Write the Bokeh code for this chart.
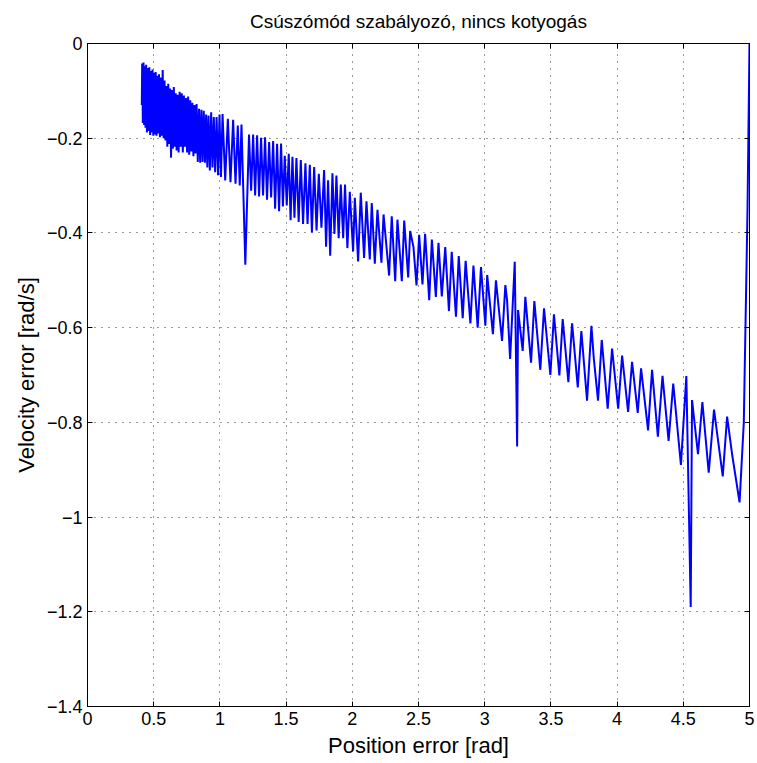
from bokeh.plotting import figure
from bokeh.models import LinearAxis, Range1d, FixedTicker
from bokeh.embed import file_html
from bokeh.resources import INLINE

# Phase-portrait turning points (position error, velocity error)
pos_err = [
    0.410, 0.413, 0.418, 0.423, 0.428, 0.433, 0.438, 0.443, 0.449, 0.455,
    0.461, 0.467, 0.473, 0.479, 0.485, 0.491, 0.497, 0.503, 0.509, 0.515,
    0.521, 0.527, 0.533, 0.540, 0.547, 0.554, 0.561, 0.568, 0.575, 0.582,
    0.589, 0.596, 0.603, 0.610, 0.617, 0.624, 0.631, 0.638, 0.645, 0.652,
    0.659, 0.666, 0.673, 0.680, 0.688, 0.696, 0.704, 0.712, 0.720, 0.728,
    0.736, 0.744, 0.752, 0.760, 0.768, 0.776, 0.784, 0.792, 0.800, 0.808,
    0.816, 0.824, 0.833, 0.842, 0.851, 0.860, 0.869, 0.878, 0.887, 0.896,
    0.905, 0.914, 0.924, 0.934, 0.944, 0.954, 0.964, 0.975, 0.986, 0.997,
    1.008, 1.020, 1.040, 1.060, 1.080, 1.100, 1.118, 1.135, 1.150, 1.163,
    1.192, 1.220, 1.236, 1.251, 1.266, 1.281, 1.296, 1.311, 1.326, 1.341,
    1.356, 1.372, 1.387, 1.402, 1.417, 1.432, 1.447, 1.462, 1.476, 1.490,
    1.505, 1.520, 1.534, 1.548, 1.563, 1.578, 1.595, 1.611, 1.628, 1.646,
    1.662, 1.679, 1.695, 1.712, 1.730, 1.747, 1.767, 1.787, 1.802, 1.817,
    1.833, 1.850, 1.865, 1.880, 1.897, 1.913, 1.931, 1.945, 1.963, 1.981,
    2.006, 2.019, 2.044, 2.064, 2.089, 2.107, 2.132, 2.147, 2.170, 2.190,
    2.220, 2.236, 2.278, 2.298, 2.324, 2.341, 2.374, 2.392, 2.422, 2.437,
    2.462, 2.485, 2.505, 2.530, 2.550, 2.581, 2.601, 2.631, 2.651, 2.676,
    2.702, 2.730, 2.751, 2.783, 2.804, 2.834, 2.856, 2.892, 2.915, 2.947,
    2.972, 3.005, 3.019, 3.062, 3.085, 3.131, 3.156, 3.169, 3.192, 3.227,
    3.245, 3.252, 3.287, 3.307, 3.350, 3.375, 3.420, 3.448, 3.496, 3.523,
    3.564, 3.589, 3.632, 3.660, 3.703, 3.730, 3.773, 3.806, 3.824, 3.856,
    3.884, 3.929, 3.962, 4.008, 4.038, 4.083, 4.113, 4.156, 4.181, 4.234,
    4.264, 4.308, 4.343, 4.389, 4.424, 4.482, 4.523, 4.556, 4.566, 4.611,
    4.644, 4.692, 4.732, 4.798, 4.831, 4.870, 4.925, 4.957, 4.985, 5.000,
]
vel_err = [
    -0.130, -0.042, -0.168, -0.040, -0.172, -0.048, -0.178, -0.045, -0.188, -0.052,
    -0.185, -0.050, -0.193, -0.058, -0.188, -0.055, -0.195, -0.062, -0.192, -0.060,
    -0.195, -0.068, -0.190, -0.065, -0.198, -0.072, -0.195, -0.056, -0.200, -0.078,
    -0.205, -0.090, -0.218, -0.085, -0.212, -0.095, -0.241, -0.098, -0.222, -0.092,
    -0.218, -0.105, -0.226, -0.108, -0.230, -0.102, -0.218, -0.105, -0.230, -0.110,
    -0.218, -0.115, -0.230, -0.112, -0.235, -0.120, -0.228, -0.125, -0.238, -0.130,
    -0.232, -0.128, -0.250, -0.138, -0.252, -0.140, -0.250, -0.142, -0.252, -0.150,
    -0.262, -0.152, -0.268, -0.145, -0.262, -0.155, -0.272, -0.155, -0.278, -0.150,
    -0.282, -0.149, -0.289, -0.159, -0.293, -0.161, -0.296, -0.173, -0.300, -0.171,
    -0.467, -0.192, -0.311, -0.192, -0.321, -0.194, -0.323, -0.199, -0.321, -0.198,
    -0.330, -0.208, -0.325, -0.206, -0.349, -0.212, -0.354, -0.211, -0.344, -0.237,
    -0.342, -0.233, -0.373, -0.239, -0.368, -0.242, -0.377, -0.246, -0.381, -0.253,
    -0.381, -0.256, -0.399, -0.261, -0.395, -0.275, -0.389, -0.267, -0.429, -0.289,
    -0.448, -0.274, -0.402, -0.279, -0.411, -0.298, -0.411, -0.298, -0.432, -0.313,
    -0.439, -0.326, -0.460, -0.315, -0.453, -0.333, -0.456, -0.337, -0.465, -0.351,
    -0.463, -0.361, -0.490, -0.365, -0.502, -0.372, -0.502, -0.374, -0.494, -0.396,
    -0.430, -0.511, -0.404, -0.509, -0.402, -0.542, -0.414, -0.535, -0.421, -0.534,
    -0.430, -0.565, -0.440, -0.577, -0.449, -0.580, -0.459, -0.591, -0.469, -0.600,
    -0.472, -0.596, -0.489, -0.614, -0.500, -0.628, -0.510, -0.542, -0.666, -0.461,
    -0.851, -0.563, -0.649, -0.535, -0.674, -0.544, -0.689, -0.559, -0.700, -0.572,
    -0.701, -0.582, -0.715, -0.591, -0.726, -0.607, -0.754, -0.596, -0.665, -0.754,
    -0.626, -0.771, -0.644, -0.771, -0.659, -0.778, -0.672, -0.780, -0.686, -0.817,
    -0.689, -0.830, -0.702, -0.839, -0.718, -0.890, -0.702, -1.190, -0.753, -0.867,
    -0.757, -0.906, -0.773, -0.914, -0.788, -0.870, -0.969, -0.800, -0.350, 0.000,
]

x_ticks = [0, 0.5, 1, 1.5, 2, 2.5, 3, 3.5, 4, 4.5, 5]
x_tick_labels = ["0", "0.5", "1", "1.5", "2", "2.5", "3", "3.5", "4", "4.5", "5"]
y_ticks = [-1.4, -1.2, -1.0, -0.8, -0.6, -0.4, -0.2, 0]
y_tick_labels = ["\u22121.4", "\u22121.2", "\u22121", "\u22120.8", "\u22120.6", "\u22120.4", "\u22120.2", "0"]

TITLE = "Csúszómód szabályozó, nincs kotyogás"
FONT = "Liberation Sans"

p = figure(
    width=757, height=763,
    x_range=Range1d(0, 5), y_range=Range1d(-1.4, 0),
    output_backend="svg", toolbar_location=None,
    min_border_left=87, min_border_right=8,
    min_border_top=43, min_border_bottom=57,
)

p.line(pos_err, vel_err, line_color="#0000ff", line_width=2)

p.outline_line_color = "black"
p.outline_line_width = 1
p.background_fill_color = "white"
p.border_fill_color = "white"

for g in (p.xgrid, p.ygrid):
    g.grid_line_color = "black"
    g.grid_line_dash = "1 6"
    g.grid_line_width = 1
    g.grid_line_alpha = 0.8
p.xgrid.ticker = FixedTicker(ticks=x_ticks)
p.ygrid.ticker = FixedTicker(ticks=y_ticks)

def style_axis(ax, ticks, labels, show_labels):
    ax.ticker = FixedTicker(ticks=ticks)
    ax.major_tick_in = 5
    ax.major_tick_out = 0
    ax.minor_tick_line_color = None
    ax.axis_line_color = "black"
    ax.major_tick_line_color = "black"
    ax.major_label_text_font = FONT
    ax.major_label_text_color = "black"
    if show_labels:
        ax.major_label_overrides = {t: l for t, l in zip(ticks, labels)}
        ax.major_label_text_font_size = "18px"
        ax.major_label_standoff = 5
    else:
        ax.major_label_overrides = {t: "" for t in ticks}
        ax.major_label_text_font_size = "1px"
        ax.major_label_standoff = 0

xa = p.xaxis[0]
ya = p.yaxis[0]
style_axis(xa, x_ticks, x_tick_labels, True)
style_axis(ya, y_ticks, y_tick_labels, True)
xa.axis_label = "Position error [rad]"
ya.axis_label = "Velocity error [rad/s]"
for ax in (xa, ya):
    ax.axis_label_text_font = FONT
    ax.axis_label_text_font_size = "22px"
    ax.axis_label_text_font_style = "normal"
    ax.axis_label_text_color = "black"
    ax.axis_label_standoff = 5

top = LinearAxis()
style_axis(top, x_ticks, x_tick_labels, False)
top.axis_label = TITLE
top.axis_label_text_font = FONT
top.axis_label_text_font_size = "19px"
top.axis_label_text_font_style = "normal"
top.axis_label_text_color = "black"
top.axis_label_standoff = 12
p.add_layout(top, "above")

right = LinearAxis()
style_axis(right, y_ticks, y_tick_labels, False)
p.add_layout(right, "right")

open("out.html", "w").write(file_html(p, INLINE))
